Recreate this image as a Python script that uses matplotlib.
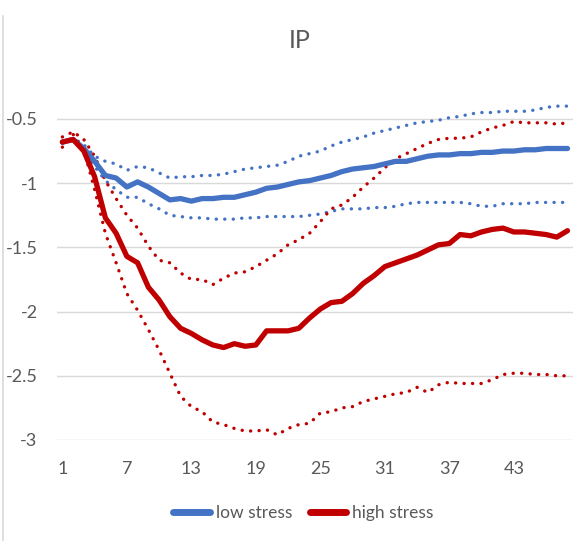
import matplotlib.pyplot as plt
from matplotlib.lines import Line2D

# x categories 1..48
steps = list(range(1, 49))

low_mean = [-0.68, -0.66, -0.73, -0.83, -0.94, -0.96, -1.03, -0.99, -1.03, -1.08,
            -1.13, -1.12, -1.14, -1.12, -1.12, -1.11, -1.11, -1.09, -1.07, -1.04,
            -1.03, -1.01, -0.99, -0.98, -0.96, -0.94, -0.91, -0.89, -0.88, -0.87,
            -0.85, -0.83, -0.83, -0.81, -0.79, -0.78, -0.78, -0.77, -0.77, -0.76,
            -0.76, -0.75, -0.75, -0.74, -0.74, -0.73, -0.73, -0.73]
low_upper = [-0.68, -0.65, -0.70, -0.79, -0.83, -0.85, -0.90, -0.87, -0.88, -0.92,
             -0.96, -0.95, -0.95, -0.94, -0.94, -0.93, -0.91, -0.89, -0.88, -0.87,
             -0.86, -0.83, -0.79, -0.77, -0.75, -0.71, -0.68, -0.66, -0.64, -0.61,
             -0.59, -0.57, -0.55, -0.53, -0.52, -0.51, -0.49, -0.48, -0.46, -0.45,
             -0.45, -0.44, -0.44, -0.44, -0.43, -0.41, -0.40, -0.40]
low_lower = [-0.69, -0.65, -0.73, -0.87, -0.98, -1.05, -1.11, -1.11, -1.16, -1.20,
             -1.25, -1.26, -1.27, -1.27, -1.28, -1.28, -1.28, -1.27, -1.27, -1.26,
             -1.26, -1.26, -1.26, -1.25, -1.24, -1.22, -1.20, -1.20, -1.20, -1.19,
             -1.19, -1.18, -1.16, -1.15, -1.15, -1.15, -1.15, -1.15, -1.16, -1.18,
             -1.18, -1.16, -1.16, -1.16, -1.15, -1.15, -1.15, -1.15]

high_mean = [-0.68, -0.66, -0.75, -0.95, -1.27, -1.39, -1.57, -1.62, -1.81, -1.91,
             -2.04, -2.13, -2.17, -2.22, -2.26, -2.28, -2.25, -2.27, -2.26, -2.15,
             -2.15, -2.15, -2.13, -2.05, -1.98, -1.93, -1.92, -1.86, -1.78, -1.72,
             -1.65, -1.62, -1.59, -1.56, -1.52, -1.48, -1.47, -1.40, -1.41, -1.38,
             -1.36, -1.35, -1.38, -1.38, -1.39, -1.40, -1.42, -1.37]
high_upper = [-0.64, -0.60, -0.66, -0.79, -0.98, -1.12, -1.25, -1.35, -1.49, -1.60,
              -1.62, -1.70, -1.75, -1.75, -1.79, -1.74, -1.70, -1.69, -1.65, -1.60,
              -1.55, -1.48, -1.44, -1.39, -1.30, -1.20, -1.17, -1.11, -1.03, -0.96,
              -0.88, -0.81, -0.77, -0.73, -0.69, -0.66, -0.65, -0.65, -0.64, -0.60,
              -0.57, -0.55, -0.52, -0.53, -0.53, -0.53, -0.54, -0.53]
high_lower = [-0.72, -0.62, -0.74, -1.05, -1.39, -1.62, -1.86, -1.99, -2.14, -2.30,
              -2.48, -2.66, -2.74, -2.78, -2.86, -2.88, -2.91, -2.93, -2.93, -2.92,
              -2.96, -2.91, -2.88, -2.87, -2.79, -2.78, -2.75, -2.74, -2.70, -2.68,
              -2.66, -2.64, -2.63, -2.59, -2.63, -2.57, -2.55, -2.56, -2.56, -2.56,
              -2.53, -2.49, -2.48, -2.48, -2.49, -2.49, -2.50, -2.50]

x_ticks = [1, 7, 13, 19, 25, 31, 37, 43]
y_ticks = [-3, -2.5, -2, -1.5, -1, -0.5]

BLUE = "#4472C4"
RED = "#C00000"
GREY = "#595959"

plt.rcParams["font.family"] = ["Lato", "DejaVu Sans"]

fig = plt.figure(figsize=(5.87, 5.41), dpi=100)
ax = fig.add_axes([0.0971, 0.1867, 0.8789, 0.629])

# round dots, about 8 px apart like the original
dots = dict(linestyle=(0, (0.05, 2.5)), linewidth=2.4, dash_capstyle="round", clip_on=False)
ax.plot(steps, low_upper, color=BLUE, **dots)
ax.plot(steps, low_lower, color=BLUE, **dots)
ax.plot(steps, high_upper, color=RED, **dots)
ax.plot(steps, high_lower, color=RED, **dots)
ax.plot(steps, low_mean, color=BLUE, linewidth=3.8, label="low stress",
        solid_capstyle="round", solid_joinstyle="round", clip_on=False)
ax.plot(steps, high_mean, color=RED, linewidth=3.8, label="high stress",
        solid_capstyle="round", solid_joinstyle="round", clip_on=False)

ax.set_xlim(0.5, 48.5)
ax.set_ylim(-3, -0.35)
ax.set_xticks(x_ticks)
ax.set_yticks(y_ticks)
ax.set_yticklabels(["-3", "-2.5", "-2", "-1.5", "-1", "-0.5"])
ax.tick_params(length=0, labelsize=13, labelcolor=GREY)
ax.tick_params(axis="y", pad=14)
ax.tick_params(axis="x", pad=15)
ax.grid(axis="y", color="#D9D9D9", linewidth=1)
ax.set_axisbelow(True)
for s in ax.spines.values():
    s.set_visible(False)

fig.text(0.511, 0.925, "IP", ha="center", va="center", fontsize=18, color=GREY)

leg = fig.legend(loc="center", bbox_to_anchor=(0.517, 0.051), ncol=2, frameon=False,
                 fontsize=12.5, handlelength=2.1, handletextpad=0.35, columnspacing=1.0)
for t in leg.get_texts():
    t.set_color(GREY)
for h in leg.legend_handles:
    h.set_linewidth(5)

# chart frame edge on the left
fig.add_artist(Line2D([0.005, 0.005], [0, 0.97], color="#D9D9D9", linewidth=1.2,
                      transform=fig.transFigure))

fig.savefig("out.png", dpi=100)
